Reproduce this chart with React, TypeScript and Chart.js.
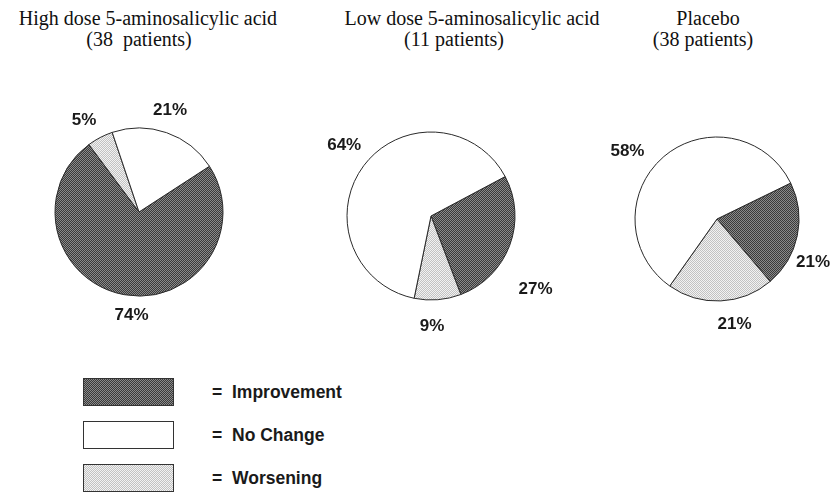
import React, { useEffect, useRef, useMemo } from 'react';
import { Chart, registerables } from 'chart.js';
Chart.register(...registerables);

// ---- data ----
const CATEGORIES = ['Improvement', 'No Change', 'Worsening'];
const GROUP_NAMES = ['High dose 5-aminosalicylic acid', 'Low dose 5-aminosalicylic acid', 'Placebo'];
const GROUP_PATIENTS = ['(38  patients)', '(11 patients)', '(38 patients)'];
const HIGH_DOSE = [74, 21, 5];
const LOW_DOSE = [27, 64, 9];
const PLACEBO = [21, 58, 21];
// clockwise drawing order of the categories in every pie
const DRAW_ORDER = [0, 2, 1];

// ---- layout / style ----
const PIES = [
  { values: HIGH_DOSE, cx: 139, cy: 212, r: 84, rotation: 57,
    place: [{ turn: -6, gap: 18 }, { turn: -3, gap: 24 }, { turn: -2.5, gap: 24 }] },
  { values: LOW_DOSE, cx: 431, cy: 216, r: 84, rotation: 62,
    place: [{ turn: 14, gap: 43 }, { turn: 4, gap: 25 }, { turn: 3, gap: 29 }] },
  { values: PLACEBO, cx: 717, cy: 219, r: 82, rotation: 64,
    place: [{ turn: 12, gap: 23 }, { turn: -7, gap: 23 }, { turn: -12, gap: 31 }] },
];
const TITLE_CENTERS = [[148, 139], [472, 454], [708, 703]];
const CANVAS = 250;

function makeTile(base: string, dot: string): HTMLCanvasElement {
  const c = document.createElement('canvas');
  c.width = 2; c.height = 2;
  const x = c.getContext('2d')!;
  x.fillStyle = base; x.fillRect(0, 0, 2, 2);
  x.fillStyle = dot; x.fillRect(0, 0, 1, 1); x.fillRect(1, 1, 1, 1);
  return c;
}

function useTiles() {
  return useMemo(() => [
    makeTile('#8a8a8a', '#3a3a3a'),
    makeTile('#ffffff', '#ffffff'),
    makeTile('#f2f2f2', '#c2c2c2'),
  ], []);
}

const pctLabels = {
  id: 'pctLabels',
  afterDatasetsDraw(chart: any, _args: any, opts: any) {
    const ctx = chart.ctx;
    const meta = chart.getDatasetMeta(0);
    const ds = chart.data.datasets[0];
    ctx.save();
    ctx.font = 'bold 17px "Liberation Sans", Arial, sans-serif';
    ctx.fillStyle = '#1a1a1a';
    ctx.textAlign = 'center';
    ctx.textBaseline = 'alphabetic';
    meta.data.forEach((arc: any, i: number) => {
      const { x, y, startAngle, endAngle, outerRadius } = arc.getProps(
        ['x', 'y', 'startAngle', 'endAngle', 'outerRadius'], true);
      const p = opts.place[i];
      const a = (startAngle + endAngle) / 2 + (p.turn * Math.PI) / 180;
      const d = outerRadius + p.gap;
      ctx.fillText(ds.data[i] + '%', x + d * Math.cos(a), y + d * Math.sin(a) + 6);
    });
    ctx.restore();
  },
};

function Pie({ cfg, tiles }: { cfg: any; tiles: HTMLCanvasElement[] }) {
  const ref = useRef<HTMLCanvasElement>(null);
  useEffect(() => {
    const canvas = ref.current!;
    const ctx = canvas.getContext('2d')!;
    const fills = DRAW_ORDER.map((k) => ctx.createPattern(tiles[k], 'repeat'));
    const chart = new Chart(canvas, {
      type: 'pie',
      data: {
        labels: DRAW_ORDER.map((k) => CATEGORIES[k]),
        datasets: [{
          data: DRAW_ORDER.map((k) => cfg.values[k]),
          backgroundColor: fills as any,
          borderColor: '#2a2a2a',
          borderWidth: 1,
        }],
      },
      options: {
        responsive: false,
        animation: false,
        rotation: cfg.rotation,
        radius: cfg.r,
        layout: { padding: 0 },
        plugins: {
          legend: { display: false },
          tooltip: { enabled: false },
          pctLabels: { place: cfg.place },
        } as any,
      },
      plugins: [pctLabels as any],
    });
    return () => chart.destroy();
  }, [cfg, tiles]);
  return (
    <canvas
      ref={ref}
      width={CANVAS}
      height={CANVAS}
      style={{ position: 'absolute', left: cfg.cx - CANVAS / 2, top: cfg.cy - CANVAS / 2, width: CANVAS, height: CANVAS }}
    />
  );
}

export default function App() {
  const tiles = useTiles();
  const urls = useMemo(() => tiles.map((t) => t.toDataURL()), [tiles]);
  const titleFont: React.CSSProperties = {
    position: 'absolute', width: 400, textAlign: 'center', whiteSpace: 'pre',
    fontFamily: '"Liberation Serif", "Times New Roman", serif', fontSize: 20, lineHeight: '21px', color: '#111',
  };
  const legendFont: React.CSSProperties = {
    position: 'absolute', height: 28, lineHeight: '28px', whiteSpace: 'pre',
    fontFamily: '"Liberation Sans", Arial, sans-serif', fontWeight: 'bold', fontSize: 17.5, color: '#1a1a1a',
  };
  return (
    <div style={{ position: 'absolute', left: 0, top: 0, width: 832, height: 493, overflow: 'hidden', background: '#fff' }}>
      {GROUP_NAMES.map((g, i) => (
        <React.Fragment key={g}>
          <div style={{ ...titleFont, left: TITLE_CENTERS[i][0] - 200, top: 8 }}>{g}</div>
          <div style={{ ...titleFont, left: TITLE_CENTERS[i][1] - 200, top: 29 }}>{GROUP_PATIENTS[i]}</div>
        </React.Fragment>
      ))}
      {PIES.map((p, i) => (
        <Pie key={i} cfg={p} tiles={tiles} />
      ))}
      {CATEGORIES.map((c, i) => (
        <React.Fragment key={c}>
          <div style={{
            position: 'absolute', left: 83, top: 378 + i * 43, width: 91, height: 28, boxSizing: 'border-box',
            border: '1px solid #333', backgroundImage: `url(${urls[i]})`, backgroundSize: '2px 2px',
            imageRendering: 'pixelated',
          }} />
          <div style={{ ...legendFont, left: 212, top: 378 + i * 43 }}>=</div>
          <div style={{ ...legendFont, left: 232, top: 378 + i * 43 }}>{c}</div>
        </React.Fragment>
      ))}
    </div>
  );
}
